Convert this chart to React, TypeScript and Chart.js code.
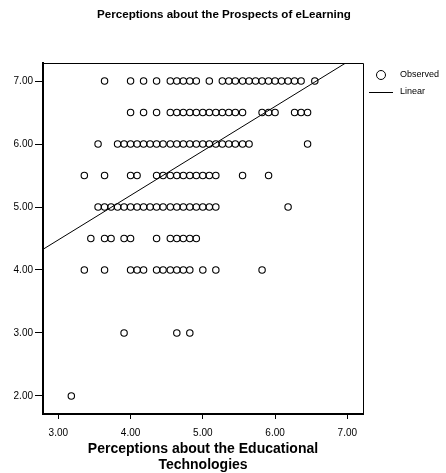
import React, { useEffect, useRef } from "react";
import { Chart, registerables } from "chart.js";

Chart.register(...registerables);

const FONT = "Arial, 'Liberation Sans', Helvetica, sans-serif";

const chartTitle = "Perceptions about the Prospects of eLearning";
const xAxisTitle = ["Perceptions about the Educational", "Technologies"];
const xTicks = [3, 4, 5, 6, 7];
const yTicks = [2, 3, 4, 5, 6, 7];
const legendLabels = ["Observed", "Linear"];

// Observed values: x (Educational Technologies) at each eLearning score level
const xAt700 = [3.64, 4.0, 4.18, 4.36, 4.55, 4.64, 4.73, 4.82, 4.91, 5.09, 5.27, 5.36, 5.45, 5.55, 5.64, 5.73, 5.82, 5.91, 6.0, 6.09, 6.18, 6.27, 6.36, 6.55];
const xAt650 = [4.0, 4.18, 4.36, 4.55, 4.64, 4.73, 4.82, 4.91, 5.0, 5.09, 5.18, 5.27, 5.36, 5.45, 5.55, 5.82, 5.91, 6.0, 6.27, 6.36, 6.45];
const xAt600 = [3.55, 3.82, 3.91, 4.0, 4.09, 4.18, 4.27, 4.36, 4.45, 4.55, 4.64, 4.73, 4.82, 4.91, 5.0, 5.09, 5.18, 5.27, 5.36, 5.45, 5.55, 5.64, 6.45];
const xAt550 = [3.36, 3.64, 4.0, 4.09, 4.36, 4.45, 4.55, 4.64, 4.73, 4.82, 4.91, 5.0, 5.09, 5.18, 5.55, 5.91];
const xAt500 = [3.55, 3.64, 3.73, 3.82, 3.91, 4.0, 4.09, 4.18, 4.27, 4.36, 4.45, 4.55, 4.64, 4.73, 4.82, 4.91, 5.0, 5.09, 5.18, 6.18];
const xAt450 = [3.45, 3.64, 3.73, 3.91, 4.0, 4.36, 4.55, 4.64, 4.73, 4.82, 4.91];
const xAt400 = [3.36, 3.64, 4.0, 4.09, 4.18, 4.36, 4.45, 4.55, 4.64, 4.73, 4.82, 5.0, 5.18, 5.82];
const xAt300 = [3.91, 4.64, 4.82];
const xAt200 = [3.18];

const yLevels = [7, 6.5, 6, 5.5, 5, 4.5, 4, 3, 2];
const xRows = [xAt700, xAt650, xAt600, xAt550, xAt500, xAt450, xAt400, xAt300, xAt200];

// Linear fit
const fitIntercept = 2.36;
const fitSlope = 0.706;

const X_MIN = 2.788;
const X_MAX = 7.217;
const Y_MIN = 1.714;
const Y_MAX = 7.286;

export default function App() {
  const ref = useRef<HTMLCanvasElement | null>(null);

  useEffect(() => {
    if (!ref.current) return;
    const observed: { x: number; y: number }[] = [];
    xRows.forEach((row, i) => row.forEach((x) => observed.push({ x, y: yLevels[i] })));
    const linear = [X_MIN, X_MAX].map((x) => ({ x, y: fitIntercept + fitSlope * x }));

    const decor = {
      id: "decor",
      afterDraw(chart: any) {
        const ctx = chart.ctx;
        const ca = chart.chartArea;
        ctx.save();
        ctx.strokeStyle = "#000";
        ctx.lineWidth = 1;
        ctx.beginPath();
        ctx.moveTo(ca.left, Math.round(ca.top) + 0.5);
        ctx.lineTo(Math.round(ca.right) + 0.5, Math.round(ca.top) + 0.5);
        ctx.lineTo(Math.round(ca.right) + 0.5, ca.bottom);
        ctx.stroke();

        ctx.fillStyle = "#000";
        ctx.font = `bold 11.6px ${FONT}`;
        ctx.textAlign = "center";
        ctx.textBaseline = "middle";
        ctx.fillText(chartTitle, 224, 15);

        // legend
        ctx.beginPath();
        ctx.arc(381, 75, 4.5, 0, Math.PI * 2);
        ctx.stroke();
        ctx.beginPath();
        ctx.moveTo(369, 92.5);
        ctx.lineTo(393, 92.5);
        ctx.stroke();
        ctx.font = `9px ${FONT}`;
        ctx.textAlign = "left";
        ctx.fillText(legendLabels[0], 400, 75);
        ctx.fillText(legendLabels[1], 400, 92);
        ctx.restore();
      },
    };

    const chart = new Chart(ref.current, {
      type: "scatter",
      data: {
        datasets: [
          {
            label: legendLabels[0],
            data: observed,
            pointStyle: "circle",
            pointRadius: 3.2,
            pointBorderWidth: 1.1,
            pointBorderColor: "#000",
            pointBackgroundColor: "rgba(255,255,255,0)",
            showLine: false,
          },
          {
            label: legendLabels[1],
            data: linear,
            type: "line",
            showLine: true,
            borderColor: "#000",
            borderWidth: 1,
            pointRadius: 0,
            fill: false,
          } as any,
        ],
      },
      plugins: [decor],
      options: {
        responsive: false,
        animation: false,
        events: [],
        layout: { padding: { top: 63, right: 83, left: 0, bottom: 0 } },
        plugins: {
          legend: { display: false },
          title: { display: false },
          tooltip: { enabled: false },
        },
        scales: {
          x: {
            type: "linear",
            min: X_MIN,
            max: X_MAX,
            afterBuildTicks: (s: any) => {
              s.ticks = xTicks.map((v) => ({ value: v }));
            },
            afterFit: (s: any) => {
              s.height = 59;
            },
            border: { display: true, color: "#000", width: 2 },
            grid: { drawOnChartArea: false, drawTicks: true, tickLength: 5, color: "#000" },
            ticks: {
              color: "#000",
              padding: 8,
              font: { family: FONT, size: 10 },
              maxRotation: 0,
              callback: (v: any) => Number(v).toFixed(2),
            },
            title: {
              display: true,
              text: xAxisTitle,
              color: "#000",
              font: { family: FONT, size: 14, weight: "bold", lineHeight: 1.15 },
              padding: { top: 0, bottom: 0 },
            },
          },
          y: {
            type: "linear",
            min: Y_MIN,
            max: Y_MAX,
            afterBuildTicks: (s: any) => {
              s.ticks = yTicks.map((v) => ({ value: v }));
            },
            afterFit: (s: any) => {
              s.width = 43;
            },
            border: { display: true, color: "#000", width: 2 },
            grid: { drawOnChartArea: false, drawTicks: true, tickLength: 8, color: "#000" },
            ticks: {
              color: "#000",
              padding: 2,
              font: { family: FONT, size: 10 },
              callback: (v: any) => Number(v).toFixed(2),
            },
          },
        },
      },
    });
    return () => chart.destroy();
  }, []);

  return (
    <div style={{ position: "fixed", left: 0, top: 0, width: 446, height: 473, background: "#fff" }}>
      <canvas ref={ref} width={446} height={473} style={{ display: "block" }} />
    </div>
  );
}
